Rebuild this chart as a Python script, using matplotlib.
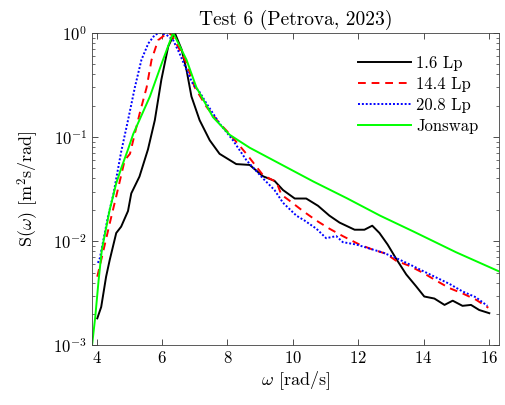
import matplotlib
matplotlib.use('Agg')
import matplotlib.pyplot as plt
import numpy as np

# ==================== 字体设置 (LaTeX 风格) ====================
plt.rcParams['font.family'] = 'serif'
plt.rcParams['font.serif'] = ['cmr10']
plt.rcParams['mathtext.fontset'] = 'cm'
plt.rcParams['axes.formatter.use_mathtext'] = True

# ==================== 数据 ====================
w_16 = [4.02, 4.14, 4.29, 4.40, 4.60, 4.75, 4.96, 5.06, 5.31, 5.57, 5.78, 5.98, 6.19, 6.39,
        6.60, 6.75, 6.90, 7.15, 7.46, 7.76, 8.27, 8.68, 9.09, 9.44, 9.70, 10.06, 10.41,
        10.77, 11.12, 11.43, 11.89, 12.19, 12.43, 12.65, 12.90, 13.16, 13.47, 13.77, 14.02,
        14.33, 14.64, 14.89, 15.19, 15.45, 15.70, 16.01]
s_16 = [1.82e-3, 2.34e-3, 4.57e-3, 6.6e-3, 1.2e-2, 1.38e-2, 1.95e-2, 2.88e-2, 4.17e-2, 7.6e-2,
        0.145, 0.355, 0.74, 1.0,
        0.69, 0.44, 0.245, 0.145, 0.093, 0.069, 0.055, 0.054, 0.042, 0.038, 0.031, 0.0257, 0.0257,
        0.0219, 0.0176, 0.0151, 0.0129, 0.0129, 0.0141, 0.0120, 0.0093, 0.0068, 0.0048, 0.0037,
        0.00295, 0.00282, 0.00245, 0.00269, 0.00240, 0.00245, 0.00219, 0.00204]

w_144 = [4.02, 4.14, 4.40, 4.60, 4.86, 5.02, 5.32, 5.53, 5.68, 5.88, 6.09, 6.20, 6.29, 6.54,
         6.75, 7.00, 7.36, 7.76, 8.07, 8.58, 9.09, 9.50, 9.65, 9.90, 10.31, 10.72, 11.12,
         11.53, 12.04, 12.45, 12.85, 13.16, 13.57, 13.97, 14.38, 14.79, 15.19, 15.60, 15.98]
s_144 = [4.57e-3, 6.6e-3, 1.48e-2, 2.7e-2, 6.0e-2, 0.069, 0.17, 0.30, 0.55, 0.85, 0.955, 1.0,
         0.955, 0.69, 0.51, 0.30, 0.195, 0.135, 0.107, 0.069, 0.043, 0.037, 0.028, 0.0245,
         0.0195, 0.0158, 0.0132, 0.0112, 0.0093, 0.0083, 0.0076, 0.0065, 0.0058, 0.0050,
         0.0042, 0.00355, 0.00316, 0.00275, 0.0023]

w_208 = [4.04, 4.10, 4.35, 4.51, 4.75, 4.96, 5.17, 5.37, 5.58, 5.78, 5.93, 6.14, 6.34, 6.54,
         6.75, 6.95, 7.15, 7.36, 7.76, 8.17, 8.58, 9.09, 9.44, 9.70, 10.11, 10.36, 10.72,
         11.02, 11.33, 11.53, 11.94, 12.35, 12.75, 13.16, 13.57, 13.97, 14.38, 14.79, 15.19,
         15.60, 15.95]
s_208 = [6.2e-3, 6.9e-3, 1.74e-2, 2.8e-2, 7.2e-2, 0.145, 0.30, 0.55, 0.79, 0.955, 1.0, 0.955,
         0.85, 0.63, 0.44, 0.32, 0.27, 0.21, 0.135, 0.093, 0.060, 0.040, 0.031, 0.0234, 0.0176,
         0.0158, 0.0132, 0.0107, 0.0112, 0.0098, 0.0093, 0.0085, 0.0078, 0.0069, 0.0060,
         0.0052, 0.0045, 0.0039, 0.0033, 0.0029, 0.0024]

w_jon = [3.86, 3.96, 4.06, 4.16, 4.40, 4.60, 4.76, 4.96, 5.12, 5.63, 6.03, 6.34, 6.75, 7.05,
         7.56, 8.07, 8.68, 9.61, 10.63, 11.65, 12.67, 13.69, 14.99, 16.33]
s_jon = [1.0e-3, 1.9e-3, 4.2e-3, 8.3e-3, 0.020, 0.036, 0.051, 0.076, 0.107, 0.245, 0.55, 1.0,
         0.55, 0.30, 0.155, 0.105, 0.079, 0.0553, 0.0374, 0.0259, 0.0176, 0.0124, 0.00785,
         0.0051]

labels = ['1.6 Lp', '14.4 Lp', '20.8 Lp', 'Jonswap']

# ==================== 绘图 ====================
fig = plt.figure(figsize=(5.05, 4.05), dpi=100)
ax = fig.add_axes([0.182, 0.147, 0.807, 0.772])

ax.plot(w_16, s_16, color='k', linewidth=1.4, label=labels[0])
ax.plot(w_144, s_144, color='r', linewidth=1.4, linestyle=(0, (4, 3)), label=labels[1])
ax.plot(w_208, s_208, color='b', linewidth=1.4, linestyle=(0, (1, 1)), label=labels[2])
ax.plot(w_jon, s_jon, color='#00ff00', linewidth=1.4, label=labels[3])

ax.set_yscale('log')
ax.set_xlim(3.856, 16.32)
ax.set_ylim(1e-3, 1)
ax.set_xticks([4, 6, 8, 10, 12, 14, 16])
ax.set_yticks([1e-3, 1e-2, 1e-1, 1])

ax.set_title('Test 6 (Petrova, 2023)', fontsize=14, pad=6)
ax.set_xlabel(r'$\omega$ [rad/s]', fontsize=13, labelpad=2)
ax.set_ylabel(r'S$(\omega)$ [m$^2$s/rad]', fontsize=13, labelpad=9)

ax.tick_params(which='both', direction='in', top=True, right=True, colors='0.2',
               labelcolor='k', labelsize=12)
ax.tick_params(which='major', length=4, width=0.6)
ax.tick_params(which='minor', length=2, width=0.5)
ax.tick_params(axis='x', which='minor', bottom=False, top=False)

for spine in ax.spines.values():
    spine.set_color('0.25')
    spine.set_linewidth(0.6)

ax.legend(loc='upper right', bbox_to_anchor=(0.985, 0.975), frameon=False, fontsize=12,
          handlelength=3.2, labelspacing=0.34, handletextpad=0.3)

fig.savefig('out.png', dpi=100)
